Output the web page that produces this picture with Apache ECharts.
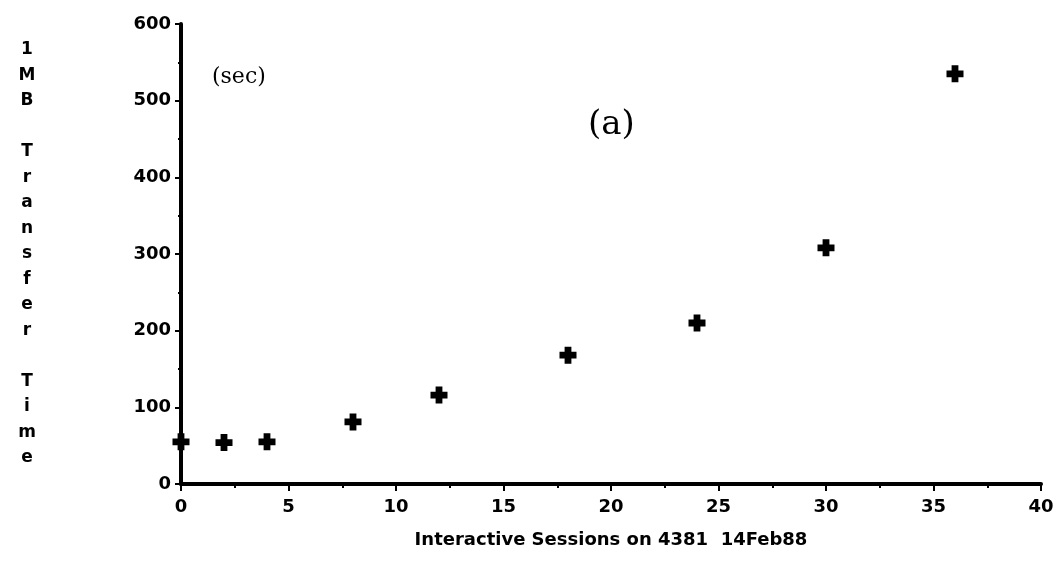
<!DOCTYPE html>
<html>
<head>
<meta charset="utf-8">
<script src="https://cdn.jsdelivr.net/npm/echarts@6/dist/echarts.min.js"></script>
<style>
  html, body { margin: 0; padding: 0; background: #fff; }
  #main { width: 1064px; height: 561px; }
</style>
</head>
<body>
<div id="main"></div>
<script>
// interactive sessions vs. time to move 1MB
var sessions = [0, 2, 4, 8, 12, 18, 24, 30, 36];
var transferSec = [55, 54, 55, 81, 116, 168, 210, 308, 535];

var yTitle = '1MB Transfer Time';
var xTitle = 'Interactive Sessions on 4381  14Feb88';

var points = sessions.map(function (s, i) { return [s, transferSec[i]]; });

var myChart = echarts.init(document.getElementById('main'));
var font = 'DejaVu Sans';
var option = {
	backgroundColor: '#fff',
	animation: false,
	grid: {
		left: 181,
		right: 23,
		top: 24,
		bottom: 77,
		containLabel: false,
		outerBoundsMode: 'none'
	},
	xAxis: {
		type: 'value',
		min: 0,
		max: 40,
		interval: 5,
		name: xTitle,
		nameLocation: 'middle',
		nameGap: 47,
		nameTextStyle: { fontFamily: font, fontSize: 18, fontWeight: 'bold', color: '#000' },
		axisLine: { onZero: false, lineStyle: { color: '#000', width: 4 } },
		axisTick: { length: 7, lineStyle: { color: '#000', width: 2 } },
		minorTick: { show: true, splitNumber: 2, length: 4, lineStyle: { color: '#000', width: 2 } },
		axisLabel: { margin: 14, fontFamily: font, fontSize: 18, fontWeight: 'bold', color: '#000' },
		splitLine: { show: false }
	},
	yAxis: {
		type: 'value',
		min: 0,
		max: 600,
		interval: 100,
		name: yTitle.split('').join('\n'),
		nameLocation: 'middle',
		nameRotate: 0,
		nameGap: 154,
		nameTextStyle: {
			fontFamily: font, fontSize: 17, fontWeight: 'bold', color: '#000',
			align: 'center', verticalAlign: 'middle', lineHeight: 25.5,
			padding: [18, 0, 0, 0]
		},
		axisLine: { lineStyle: { color: '#000', width: 4 } },
		axisTick: { length: 6, lineStyle: { color: '#000', width: 2 } },
		minorTick: { show: true, splitNumber: 2, length: 3, lineStyle: { color: '#000', width: 2 } },
		axisLabel: { margin: 10, fontFamily: font, fontSize: 18, fontWeight: 'bold', color: '#000' },
		splitLine: { show: false }
	},
	graphic: [
		{
			type: 'text',
			left: 212,
			top: 66,
			style: { text: '(sec)', fontFamily: 'DejaVu Serif', fontSize: 22, fill: '#000' }
		},
		{
			type: 'text',
			left: 588,
			top: 108,
			style: { text: '(a)', fontFamily: 'DejaVu Serif', fontSize: 34, fill: '#000' }
		}
	],
	series: [{
		type: 'scatter',
		data: points,
		symbol: 'path://M3,0H7V3H10V7H7V10H3V7H0V3H3Z',
		symbolSize: 17,
		itemStyle: { color: '#000', opacity: 1 }
	}]
};
myChart.setOption(option);
</script>
</body>
</html>
